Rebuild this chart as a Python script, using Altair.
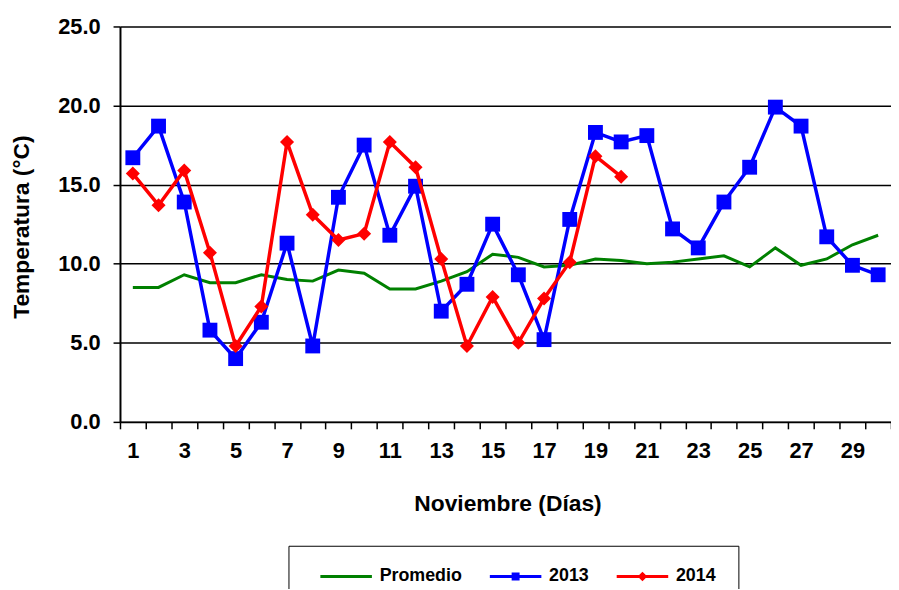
import altair as alt
import pandas as pd

days = list(range(1, 31))
promedio = [8.5, 8.5, 9.3, 8.8, 8.8, 9.3, 9.0, 8.9, 9.6, 9.4,
            8.4, 8.4, 8.9, 9.5, 10.6, 10.4, 9.8, 9.9, 10.3, 10.2,
            10.0, 10.1, 10.3, 10.5, 9.8, 11.0, 9.9, 10.3, 11.2, 11.8]
serie_2013 = [16.7, 18.7, 13.9, 5.8, 4.0, 6.3, 11.3, 4.8, 14.2, 17.5,
              11.8, 14.9, 7.0, 8.7, 12.5, 9.3, 5.2, 12.8, 18.3, 17.7,
              18.1, 12.2, 11.0, 13.9, 16.1, 19.9, 18.7, 11.7, 9.9, 9.3]
serie_2014 = [15.7, 13.7, 15.9, 10.7, 4.8, 7.3, 17.7, 13.1, 11.5, 11.9,
              17.7, 16.1, 10.3, 4.8, 7.9, 5.0, 7.8, 10.1, 16.8, 15.5]

series_names = ["Promedio", "2013", "2014"]
series_colors = ["#008000", "#0000FF", "#FF0000"]
y_ticks = [0, 5, 10, 15, 20, 25]

rows = []
for name, vals in zip(series_names, [promedio, serie_2013, serie_2014]):
    for d, v in zip(days, vals):
        rows.append({"dia": d, "temp": v, "serie": name})
df = pd.DataFrame(rows)

FONT = "Liberation Sans"

x_scale = alt.Scale(type="band", domain=days, paddingInner=0, paddingOuter=0)
y_scale = alt.Scale(domain=[0, 25], nice=False, zero=True)

x_axis = alt.Axis(
    labelExpr="datum.value % 2 == 1 ? '' + datum.value : ''",
    labelAngle=0, labelOverlap=False, labelBound=False, labelFlush=False,
    tickBand="extent",
    tickSize=7, tickColor="black", tickWidth=1.5,
    labelPadding=12, grid=False,
    domainColor="black", domainWidth=2,
    labelFontSize=22,
    title="Noviembre (Días)", titleX=391, titleY=89,
    titleBaseline="alphabetic", titleAlign="center",
)
y_axis = alt.Axis(
    values=y_ticks, format=".1f",
    tickSize=7, tickColor="black", tickWidth=1.5,
    labelPadding=13, grid=True, gridColor="black", gridWidth=1.5,
    domainColor="black", domainWidth=2,
    labelFontSize=22,
    title="Temperatura (°C)", titleX=-92, titleY=202, titleAngle=270,
    titleBaseline="alphabetic", titleAlign="center",
)

base = alt.Chart(df).encode(
    x=alt.X("dia:O", scale=x_scale, axis=x_axis, sort=None),
    y=alt.Y("temp:Q", scale=y_scale, axis=y_axis),
)

green = base.transform_filter(alt.datum.serie == "Promedio").mark_line(
    color="#008000", strokeWidth=3)
blue_line = base.transform_filter(alt.datum.serie == "2013").mark_line(
    color="#0000FF", strokeWidth=3.5)
blue_pts = base.transform_filter(alt.datum.serie == "2013").mark_point(
    shape="square", filled=True, size=225, color="#0000FF", opacity=1, strokeWidth=0)
red_line = base.transform_filter(alt.datum.serie == "2014").mark_line(
    color="#FF0000", strokeWidth=3.5)
red_pts = base.transform_filter(alt.datum.serie == "2014").mark_point(
    shape="diamond", filled=True, size=200, color="#FF0000", opacity=1, strokeWidth=0)

legend_shapes = [
    "M0.24,0H10.64",
    "M0.24,0H10.64M4.94,-0.5H5.94V0.5H4.94Z",
    "M0.24,0H10.64M5.44,-0.55L5.99,0L5.44,0.55L4.89,0Z",
]

leg = alt.Legend(
    title=None, orient="none", legendX=170, legendY=524,
    direction="horizontal", padding=22,
    strokeColor="black", fillColor="white",
    labelFont=FONT, labelFontSize=18, labelFontWeight="bold", labelColor="black",
    symbolSize=100, symbolStrokeWidth=3, labelOffset=52, columnPadding=17,
    symbolOpacity=1,
)

legend_layer = base.mark_point(filled=True, size=100, opacity=0).encode(
    fill=alt.Fill("serie:N", scale=alt.Scale(domain=series_names, range=series_colors), legend=leg),
    stroke=alt.Stroke("serie:N", scale=alt.Scale(domain=series_names, range=series_colors), legend=leg),
    shape=alt.Shape("serie:N", scale=alt.Scale(domain=series_names, range=legend_shapes), legend=leg),
)

chart = alt.layer(green, blue_line, blue_pts, red_line, red_pts, legend_layer).properties(
    width=778, height=399,
    padding={"left": 113, "top": 16, "right": 0, "bottom": 166},
    autosize=alt.AutoSizeParams(type="none"),
).configure_view(stroke=None).configure_axis(
    labelFont=FONT, labelFontSize=22, labelFontWeight="bold", labelColor="black",
    titleFont=FONT, titleFontSize=23, titleFontWeight="bold", titleColor="black",
)

chart.save("out.html", embed_options={"renderer": "svg", "actions": False})
